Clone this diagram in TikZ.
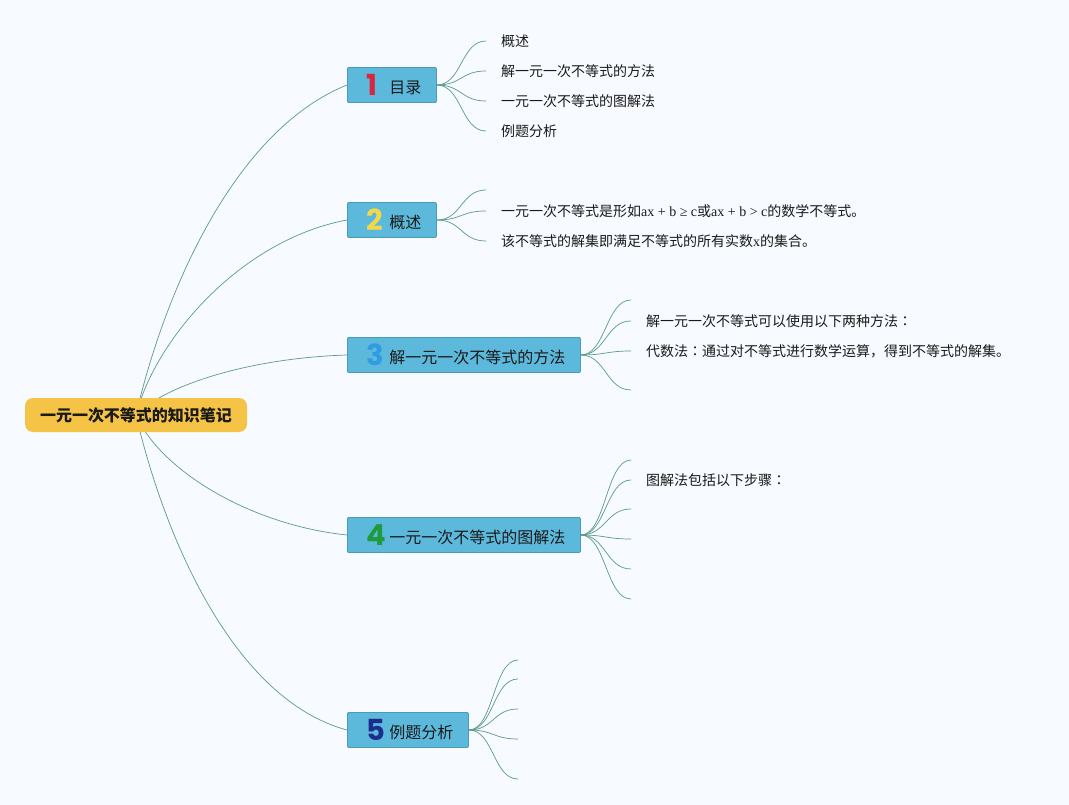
\documentclass[tikz,border=0pt]{standalone}
\usepackage{fontspec}
\setmainfont{Liberation Serif}
\newfontfamily\cjk{Noto Sans CJK SC}
\newfontfamily\cjktc{Noto Sans CJK TC}
\newfontfamily\numfont{Poppins}
\definecolor{bgc}{HTML}{F7FAFE}
\definecolor{linkc}{HTML}{5B9A8B}
\definecolor{topicfill}{HTML}{5DB9DC}
\definecolor{topicborder}{HTML}{4A9BB8}
\definecolor{rootc}{HTML}{F5C446}
\definecolor{textc}{HTML}{1A1A1A}
\definecolor{cone}{HTML}{D7263D}
\definecolor{ctwo}{HTML}{F3D94A}
\definecolor{cthree}{HTML}{2E9BE3}
\definecolor{cfour}{HTML}{1E9B3C}
\definecolor{cfive}{HTML}{1C2D8C}
\pgfdeclarelayer{back}
\pgfdeclarelayer{bg}
\pgfsetlayers{back,bg,main}
\newcommand{\topiclabel}[3]{\hspace*{19pt}\makebox[23pt][l]{\raisebox{-2pt}{\numfont\bfseries\fontsize{29}{29}\selectfont\color{#1}#2}}#3\hspace*{15pt}}
\newcommand{\ccolon}{{\cjktc ：}}
\begin{document}
\begin{tikzpicture}[x=1pt,y=-1pt,
  link/.style={draw=linkc, line width=0.7pt},
  root/.style={fill=rootc, rounded corners=8pt, minimum width=222pt, minimum height=34pt, inner sep=0pt, font=\cjk\bfseries\fontsize{16}{16}\selectfont, text=textc},
  topic/.style={draw=topicborder, fill=topicfill, line width=0.8pt, rounded corners=1pt, minimum height=35pt, inner xsep=0pt, inner ysep=0pt, anchor=west, font=\cjk\fontsize{16}{16}\selectfont, text=textc},
  leaf/.style={anchor=west, inner xsep=15pt, inner ysep=0pt, font=\fontsize{14}{14}\selectfont, text=textc},
  branch/.style={link}
]
\begin{pgfonlayer}{back}
\fill[bgc] (0,0) rectangle (1069,805);
\end{pgfonlayer}
\useasboundingbox (0,0) rectangle (1069,805);

% root and topics
\node[root] (root) at (136,415) {一元一次不等式的知识笔记};
\node[topic] (t1) at (347,85) {\topiclabel{cone}{1}{目录}};
\node[topic] (t2) at (347,220) {\topiclabel{ctwo}{2}{概述}};
\node[topic] (t3) at (347,355) {\topiclabel{cthree}{3}{解一元一次不等式的方法}};
\node[topic] (t4) at (347,535) {\topiclabel{cfour}{4}{一元一次不等式的图解法}};
\node[topic] (t5) at (347,730) {\topiclabel{cfive}{5}{例题分析}};

% leaves of topic 1
\node[leaf] (a1) at (486,41) {\cjk 概述};
\node[leaf] (a2) at (486,71) {\cjk 解一元一次不等式的方法};
\node[leaf] (a3) at (486,101) {\cjk 一元一次不等式的图解法};
\node[leaf] (a4) at (486,131) {\cjk 例题分析};

% leaves of topic 2
\coordinate (b0) at (486,190);
\node[leaf] (b1) at (486,211) {{\cjk 一元一次不等式是形如}ax + b ≥ c{\cjk 或}ax + b > c{\cjk 的数学不等式。}};
\node[leaf] (b2) at (486,241) {{\cjk 该不等式的解集即满足不等式的所有实数}x{\cjk 的集合。}};

% leaves of topic 3
\coordinate (c0) at (631,300);
\node[leaf] (c1) at (631,321) {{\cjk 解一元一次不等式可以使用以下两种方法}\ccolon};
\node[leaf] (c2) at (631,351) {{\cjk 代数法}\ccolon{\cjk 通过对不等式进行数学运算，得到不等式的解集。}};
\coordinate (c3) at (631,390);

% leaves of topic 4
\coordinate (d0) at (631,460);
\node[leaf] (d1) at (631,480) {{\cjk 图解法包括以下步骤}\ccolon};
\coordinate (d2) at (631,509);
\coordinate (d3) at (631,539);
\coordinate (d4) at (631,569);
\coordinate (d5) at (631,599);

% leaves of topic 5
\coordinate (e0) at (518,660);
\coordinate (e1) at (518,679);
\coordinate (e2) at (518,709);
\coordinate (e3) at (518,739);
\coordinate (e4) at (518,779);

\begin{pgfonlayer}{bg}
\draw[link] (root.center) .. controls (165,290) and (235,130) .. (t1.west);
\draw[link] (root.center) .. controls (155,340) and (240,240) .. (t2.west);
\draw[link] (root.center) .. controls (165,385) and (250,358) .. (t3.west);
\draw[link] (root.center) .. controls (160,470) and (250,525) .. (t4.west);
\draw[link] (root.center) .. controls (165,540) and (235,700) .. (t5.west);

\foreach \n in {a1,a2,a3,a4}
  \draw[branch] (t1.east) .. controls +(25,0) and +(-25,0) .. (\n.west);
\draw[branch] (t2.east) .. controls +(25,0) and +(-25,0) .. (b0);
\foreach \n in {b1,b2}
  \draw[branch] (t2.east) .. controls +(25,0) and +(-25,0) .. (\n.west);
\draw[branch] (t3.east) .. controls +(25,0) and +(-25,0) .. (c0);
\draw[branch] (t3.east) .. controls +(25,0) and +(-25,0) .. (c3);
\foreach \n in {c1,c2}
  \draw[branch] (t3.east) .. controls +(25,0) and +(-25,0) .. (\n.west);
\foreach \n in {d0,d2,d3,d4,d5}
  \draw[branch] (t4.east) .. controls +(25,0) and +(-25,0) .. (\n);
\draw[branch] (t4.east) .. controls +(25,0) and +(-25,0) .. (d1.west);
\foreach \n in {e0,e1,e2,e3,e4}
  \draw[branch] (t5.east) .. controls +(25,0) and +(-25,0) .. (\n);
\end{pgfonlayer}
\end{tikzpicture}
\end{document}
